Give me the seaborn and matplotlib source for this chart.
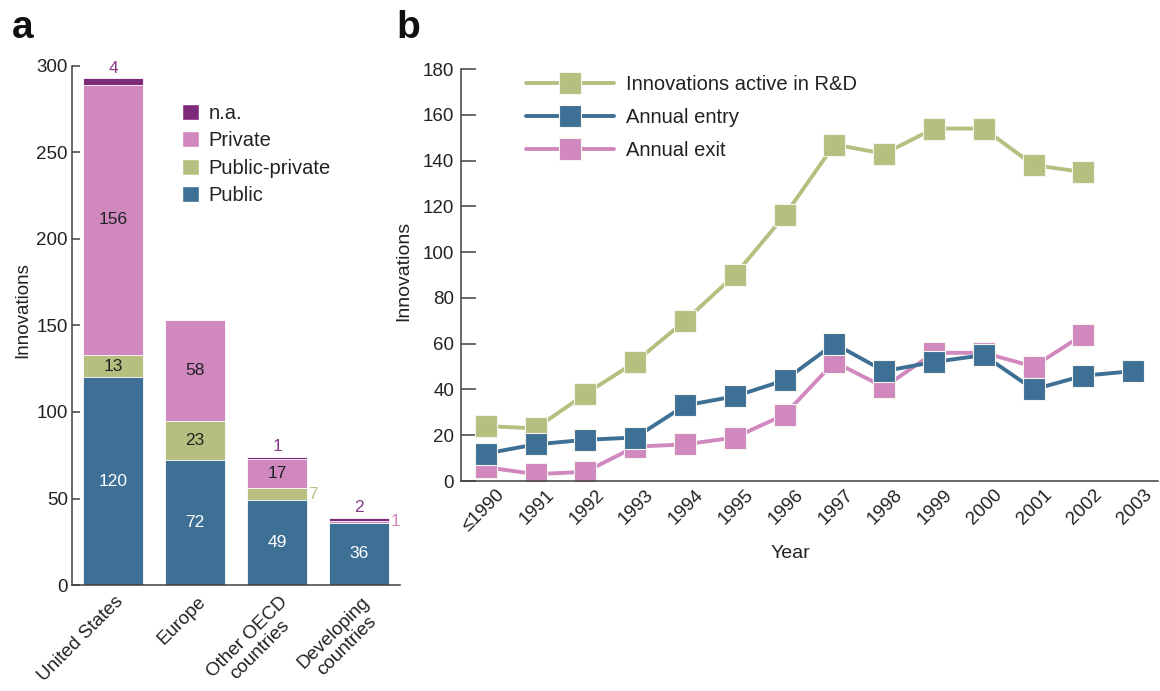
import numpy as np
import pandas as pd
import matplotlib
matplotlib.use("Agg")
import matplotlib.pyplot as plt
import matplotlib.transforms as mtransforms
from matplotlib.patches import Patch
from matplotlib.lines import Line2D
import seaborn as sns

# ---------------- data ----------------
regions = ["United States", "Europe", "Other OECD\ncountries", "Developing\ncountries"]
public = [120, 72, 49, 36]
public_private = [13, 23, 7, 0]
private = [156, 58, 17, 1]
na = [4, 0, 1, 2]

years = ["\u22641990", "1991", "1992", "1993", "1994", "1995", "1996", "1997",
         "1998", "1999", "2000", "2001", "2002", "2003"]
active_rd = [24, 23, 38, 52, 70, 90, 116, 147, 143, 154, 154, 138, 135, np.nan]
annual_entry = [12, 16, 18, 19, 33, 37, 44, 60, 48, 52, 55, 40, 46, 48]
annual_exit = [6, 3, 4, 15, 16, 19, 29, 52, 41, 56, 56, 50, 64, np.nan]

# ---------------- style ----------------
sns.set_theme(style="white")
plt.rcParams["font.family"] = ["Liberation Sans", "DejaVu Sans"]
AX_COLOR = "#404040"
TXT = "#222222"
C_PUBLIC = "#3E7096"
C_PUBPRIV = "#B6BF80"
C_PRIVATE = "#D088BE"
C_NA = "#7D2A7A"

fig = plt.figure(figsize=(11.6, 6.91), dpi=100)
W, H = 1160, 691
def ax_rect(x0, y0, x1, y1):
    return [x0 / W, 1 - y1 / H, (x1 - x0) / W, (y1 - y0) / H]

axa = fig.add_axes(ax_rect(72, 66, 400, 585))
axb = fig.add_axes(ax_rect(461, 69, 1158, 481))

# ---------------- panel a: stacked bars ----------------
layers = [("Public", public, C_PUBLIC),
          ("Public-private", public_private, C_PUBPRIV),
          ("Private", private, C_PRIVATE),
          ("n.a.", na, C_NA)]
cum = np.cumsum(np.array([l[1] for l in layers], dtype=float), axis=0)
xpos = list(range(len(regions)))
df_a = pd.DataFrame({"region": regions})
for i in range(len(layers) - 1, -1, -1):
    df_a["h"] = cum[i]
    sns.barplot(data=df_a, x="region", y="h", color=layers[i][2], saturation=1,
                width=0.73, edgecolor="white", linewidth=0.6, ax=axa)

for j in range(len(regions)):
    for i, (name, vals, col) in enumerate(layers):
        v = vals[j]
        if v <= 0:
            continue
        bottom = cum[i][j] - v
        if name == "n.a.":
            axa.text(j, cum[i][j] + 1.5, str(v), ha="center", va="bottom",
                     fontsize=12.5, color="#8A3A8A")
        elif v < 8:
            axa.text(j + 0.38, bottom + v / 2, str(v), ha="left", va="center",
                     fontsize=12.5, color=col)
        else:
            axa.text(j, bottom + v / 2, str(v), ha="center", va="center",
                     fontsize=12.5, color="white" if name == "Public" else TXT)

axa.set_xlim(-0.5, 3.5)
axa.set_ylim(0, 300)
axa.set_yticks([0, 50, 100, 150, 200, 250, 300])
axa.set_xticks(xpos)
axa.set_xticklabels(regions)
axa.set_xticks([0.5, 1.5, 2.5, 3.5], minor=True)
axa.tick_params(axis="x", which="major", length=0, pad=6)
axa.tick_params(axis="x", which="minor", direction="in", length=9, width=1.1, color=AX_COLOR)
axa.tick_params(axis="y", direction="in", length=6, width=1.1, color=AX_COLOR,
                labelsize=13.5, pad=3, labelcolor=TXT, left=True)
for lab in axa.get_xticklabels():
    lab.set_rotation(45)
    lab.set_ha("right")
    lab.set_va("top")
    lab.set_rotation_mode("anchor")
    lab.set_multialignment("center")
    lab.set_fontsize(13.6)
    lab.set_linespacing(1.1)
    lab.set_color(TXT)
    lab.set_transform(lab.get_transform() +
                      mtransforms.ScaledTranslation(2 / 100, 0, fig.dpi_scale_trans))
axa.set_xlabel("")
axa.set_ylabel("Innovations", fontsize=13.5, color=TXT)
axa.yaxis.set_label_coords(-0.125, 0.53)
sns.despine(ax=axa)
for s in ["left", "bottom"]:
    axa.spines[s].set_color(AX_COLOR)
    axa.spines[s].set_linewidth(1.1)

handles_a = [Patch(facecolor=c, edgecolor="white", label=n) for n, _, c in layers[::-1]]
axa.legend(handles=handles_a, loc="upper left", bbox_to_anchor=(0.279, 0.962),
           frameon=False, fontsize=14.5, handlelength=0.85, handleheight=0.85,
           labelspacing=0.42, handletextpad=0.5, labelcolor=TXT)

# ---------------- panel b: lines ----------------
xi = np.arange(len(years))
series = [("Innovations active in R&D", active_rd, C_PUBPRIV),
          ("Annual exit", annual_exit, C_PRIVATE),
          ("Annual entry", annual_entry, C_PUBLIC)]
for name, vals, col in series:
    d = pd.DataFrame({"x": xi, "y": vals}).dropna()
    sns.lineplot(data=d, x="x", y="y", ax=axb, color=col, linewidth=2.8,
                 marker="s", markersize=16, markeredgecolor="#F4F4EC",
                 markeredgewidth=0.8, label=None, legend=False)

axb.set_xlim(-0.5, 13.5)
axb.set_ylim(0, 180)
axb.set_yticks(range(0, 181, 20))
axb.set_xticks(xi)
axb.set_xticklabels(years)
axb.set_xticks(np.arange(0.5, 13.6, 1.0), minor=True)
axb.tick_params(axis="x", which="major", length=0, pad=4, labelsize=13.5, labelcolor=TXT)
axb.tick_params(axis="x", which="minor", direction="in", length=7, width=1.1, color=AX_COLOR)
axb.tick_params(axis="y", direction="in", length=11, width=1.1, color=AX_COLOR,
                labelsize=13.5, pad=5, labelcolor=TXT, left=True)
for lab in axb.get_xticklabels():
    lab.set_rotation(45)
    lab.set_ha("right")
    lab.set_va("top")
    lab.set_rotation_mode("anchor")
    lab.set_transform(lab.get_transform() +
                      mtransforms.ScaledTranslation(10 / 100, 0, fig.dpi_scale_trans))
axb.set_xlabel("Year", fontsize=14, color=TXT)
axb.xaxis.set_label_coords(0.472, -0.155)
axb.set_ylabel("Innovations", fontsize=14, color=TXT)
axb.yaxis.set_label_coords(-0.07, 0.51)
sns.despine(ax=axb)
for s in ["left", "bottom"]:
    axb.spines[s].set_color(AX_COLOR)
    axb.spines[s].set_linewidth(1.1)

leg_order = [series[0], series[2], series[1]]
handles_b = [Line2D([0], [0], color=c, lw=2.8, marker="s", markersize=16,
                    markeredgecolor="#F4F4EC", markeredgewidth=0.8, label=n)
             for n, _, c in leg_order]
axb.legend(handles=handles_b, loc="upper left", bbox_to_anchor=(0.067, 1.03),
           frameon=False, fontsize=14.5, handlelength=4.4, labelspacing=0.7,
           handletextpad=0.55, labelcolor=TXT)

# ---------------- panel letters ----------------
fig.text(12 / W, 1 - 38 / H, "a", fontsize=28, fontweight="bold", color="#111111")
fig.text(396 / W, 1 - 38 / H, "b", fontsize=28, fontweight="bold", color="#111111")

fig.savefig("out.png", dpi=100)
